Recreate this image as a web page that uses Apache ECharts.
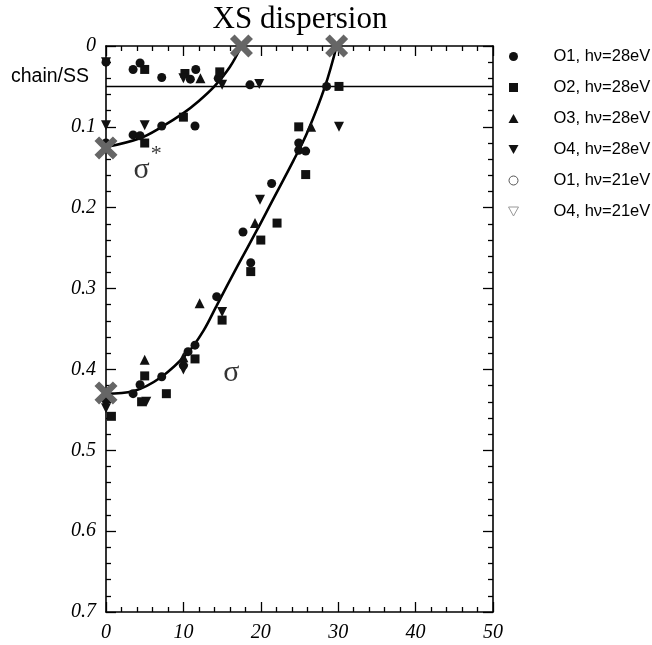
<!DOCTYPE html>
<html>
<head>
<meta charset="utf-8">
<script src="https://cdn.jsdelivr.net/npm/echarts@6/dist/echarts.min.js"></script>
<style>
html,body{margin:0;padding:0;background:#fff;}
#chart{width:652px;height:645px;}
</style>
</head>
<body>
<div id="chart"></div>
<script>
// ---- data ----
const xTicks = [0, 10, 20, 30, 40, 50];
const yTicks = [0, 0.1, 0.2, 0.3, 0.4, 0.5, 0.6, 0.7];

const o1_28 = [
  [0,0.02],[3.5,0.029],[4.4,0.021],[7.2,0.039],[10.9,0.041],[11.6,0.029],[14.5,0.04],[18.6,0.048],[28.5,0.05],
  [0,0.12],[3.5,0.11],[4.4,0.111],[7.2,0.099],[11.5,0.099],
  [24.9,0.12],[24.9,0.129],[25.8,0.13],[21.4,0.17],[17.7,0.23],[18.7,0.268],[14.3,0.31],
  [11.5,0.37],[10.6,0.378],[10,0.395],[7.2,0.409],[4.4,0.419],[3.5,0.43],[0,0.438]
];
const o2_28 = [
  [5,0.029],[10.2,0.034],[14.7,0.032],[30.1,0.05],[10,0.088],[5,0.12],
  [24.9,0.10],[25.8,0.159],[22.1,0.219],[20,0.24],[18.7,0.279],[15,0.339],[11.5,0.387],
  [5,0.408],[7.8,0.43],[4.6,0.44],[0.7,0.458]
];
const o3_28 = [
  [12.2,0.04],[26.5,0.10],[19.25,0.219],[12.1,0.318],[5,0.388],[10,0.385]
];
const o4_28 = [
  [0,0.02],[10,0.04],[15,0.048],[19.8,0.047],[0,0.098],[5,0.098],
  [30.1,0.10],[19.9,0.19],[15,0.329],[10,0.40],[5.2,0.44],[0,0.448]
];
const o1_21 = [];
const o4_21 = [];

const bandEdges = [[0,0.126],[17.5,0],[29.8,0],[0,0.429]];
const sigmaStarCurve = [[0,0.125],[4.4,0.114],[7.2,0.1],[10,0.083],[12,0.068],[14,0.05],[16,0.026],[17.5,0]];
const sigmaCurve = [[0,0.43],[3.5,0.427],[7.2,0.409],[10.6,0.379],[12.6,0.352],[14.3,0.321],[17,0.272],[19.6,0.226],[21.4,0.193],[24.2,0.142],[26,0.107],[28.3,0.05],[29.8,0]];
const chainSSLevel = 0.05;
const sigmaLabels = [
  {pos:[16.2,0.404], text:'σ', big:true},
  {pos:[4.6,0.153], text:'σ', big:true},
  {pos:[6.5,0.134], text:'*', big:false}
];

// ---- chart ----
const SQUARE = 'path://M0,0 L10,0 L10,10 L0,10 Z';
const TRI_UP = 'path://M5,0 L10,9 L0,9 Z';
const TRI_DN = 'path://M0,0 L10,0 L5,9 Z';
const XMARK = 'path://M0,4 L4,0 L10,6 L16,0 L20,4 L14,10 L20,16 L16,20 L10,14 L4,20 L0,16 L6,10 Z';

const serif = '"Liberation Serif","DejaVu Serif",serif';
const sans = '"Liberation Sans",Arial,sans-serif';

function scatter(name, data, symbol, size, style) {
  return {
    name, type:'scatter', data, symbol, symbolSize:size,
    xAxisIndex:0, yAxisIndex:0, clip:false,
    itemStyle: Object.assign({opacity:1}, style), z:4
  };
}

const axisCommon = {
  axisLine:{show:true, onZero:false, lineStyle:{color:'#000', width:1.6}},
  axisTick:{show:true, inside:true, length:10, lineStyle:{color:'#000', width:1.3}},
  minorTick:{show:true, splitNumber:5, length:5, lineStyle:{color:'#000', width:1.3}},
  splitLine:{show:false}, minorSplitLine:{show:false}
};

const option = {
  animation:false,
  backgroundColor:'#fff',
  title:{
    text:'XS dispersion', left:300, top:4, padding:0, textAlign:'center',
    textStyle:{fontFamily:serif, fontSize:31, fontWeight:'normal', color:'#000'}
  },
  grid:{left:106, right:159, top:46, bottom:33, containLabel:false},
  xAxis:[
    Object.assign({type:'value', min:xTicks[0], max:xTicks[xTicks.length-1], interval:10, position:'bottom',
      axisLabel:{show:true, fontFamily:serif, fontStyle:'italic', fontSize:20, color:'#000', margin:11}}, axisCommon),
    Object.assign({type:'value', min:xTicks[0], max:xTicks[xTicks.length-1], interval:10, position:'top',
      axisLabel:{show:false}}, axisCommon)
  ],
  yAxis:[
    Object.assign({type:'value', inverse:true, min:yTicks[0], max:yTicks[yTicks.length-1], interval:0.1, position:'left',
      axisLabel:{show:true, fontFamily:serif, fontStyle:'italic', fontSize:20, color:'#000', margin:10,
        formatter:v=>String(Math.round(v*10)/10)}}, axisCommon),
    Object.assign({type:'value', inverse:true, min:yTicks[0], max:yTicks[yTicks.length-1], interval:0.1, position:'right',
      axisLabel:{show:false}}, axisCommon)
  ],
  legend:{
    orient:'vertical', left:503, top:42, padding:5, itemWidth:10, itemHeight:9, itemGap:12,
    textStyle:{fontFamily:sans, fontSize:16.5, color:'#000', lineHeight:19, padding:[0,0,0,30]},
    data:[
      {name:'O1, hν=28eV', icon:'circle'},
      {name:'O2, hν=28eV', icon:SQUARE},
      {name:'O3, hν=28eV', icon:TRI_UP},
      {name:'O4, hν=28eV', icon:TRI_DN},
      {name:'O1, hν=21eV', icon:'circle', itemStyle:{color:'#fff', borderColor:'#555', borderWidth:1}},
      {name:'O4, hν=21eV', icon:TRI_DN, itemStyle:{color:'#fff', borderColor:'#999', borderWidth:1}}
    ],
    selectedMode:false
  },
  series:[
    {
      name:'chain/SS', type:'line', data:[[xTicks[0],chainSSLevel],[xTicks[xTicks.length-1],chainSSLevel]],
      symbol:'none', lineStyle:{color:'#000', width:1.6}, z:2, silent:true,
      markPoint:{
        symbol:'rect', symbolSize:0, silent:true,
        data:[{coord:[xTicks[0],chainSSLevel], label:{show:true, formatter:'chain/SS', position:'left', distance:17,
          fontFamily:sans, fontSize:19.5, color:'#000', offset:[0,-10]}}]
      }
    },
    {name:'sigmaStar', type:'line', data:sigmaStarCurve, smooth:0.35, symbol:'none',
      lineStyle:{color:'#000', width:2.6}, z:3, silent:true},
    {name:'sigma', type:'line', data:sigmaCurve, smooth:0.35, symbol:'none',
      lineStyle:{color:'#000', width:2.6}, z:3, silent:true},
    scatter('O1, hν=28eV', o1_28, 'circle', 9, {color:'#111'}),
    scatter('O2, hν=28eV', o2_28, SQUARE, 9, {color:'#111'}),
    scatter('O3, hν=28eV', o3_28, TRI_UP, 10, {color:'#111'}),
    scatter('O4, hν=28eV', o4_28, TRI_DN, 10, {color:'#111'}),
    scatter('O1, hν=21eV', o1_21, 'circle', 8, {color:'#fff', borderColor:'#555', borderWidth:1}),
    scatter('O4, hν=21eV', o4_21, TRI_DN, 8, {color:'#fff', borderColor:'#999', borderWidth:1}),
    {name:'edges', type:'scatter', data:bandEdges, symbol:XMARK, symbolSize:23, clip:false,
      itemStyle:{color:'#666', opacity:1}, z:5, silent:true},
    {name:'labels', type:'scatter', symbolSize:0, clip:false, silent:true, z:6,
      data:sigmaLabels.map(d=>({value:d.pos, label:{show:true, position:'inside', formatter:d.text,
        fontFamily:serif, fontSize:d.big?30:22, color:'#000'}}))}
  ]
};

const chart = echarts.init(document.getElementById('chart'), null, {renderer:'canvas'});
chart.setOption(option);
</script>
</body>
</html>
